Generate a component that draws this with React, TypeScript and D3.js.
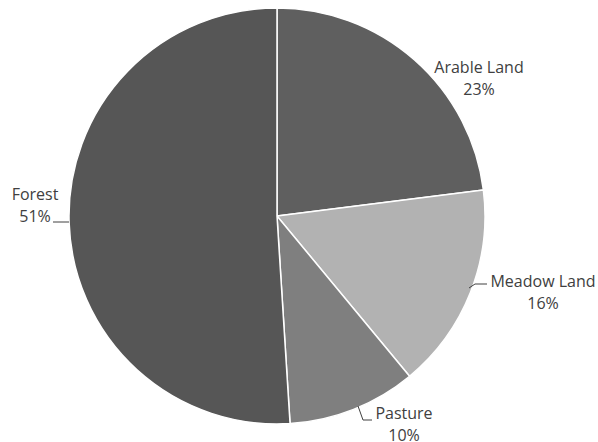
import React from "react";
import * as d3 from "d3";

// Land use shares, clockwise from 12 o'clock
const categories = ["Arable Land", "Meadow Land", "Pasture", "Forest"];
const shares = [23, 16, 10, 51];
const sliceColors = ["#5f5f5f", "#b2b2b2", "#7f7f7f", "#565656"];

const WIDTH = 598;
const HEIGHT = 442;
const CX = 277;
const CY = 216;
const RADIUS = 208;

// Label anchors (centre of the two-line label, first baseline) and leader lines
type LabelLayout = { x: number; y: number; leader?: [number, number][] };
const labelLayout: LabelLayout[] = [
  { x: 479, y: 73 },
  { x: 543, y: 287, leader: [[469, 288], [475, 284], [487, 284]] },
  { x: 404, y: 419, leader: [[358, 406], [363, 420], [372, 420]] },
  { x: 35, y: 200, leader: [[53, 222], [69, 222]] },
];

export default function App() {
  const data = categories.map((c, i) => ({ name: c, value: shares[i], color: sliceColors[i] }));
  const pie = d3
    .pie<{ name: string; value: number; color: string }>()
    .value((d) => d.value)
    .sort(null);
  const arcs = pie(data);
  const arc = d3
    .arc<d3.PieArcDatum<{ name: string; value: number; color: string }>>()
    .innerRadius(0)
    .outerRadius(RADIUS);
  const line = d3.line();

  return (
    <svg
      width={WIDTH}
      height={HEIGHT}
      style={{ position: "absolute", left: 0, top: 0, background: "#ffffff" }}
    >
      <g transform={`translate(${CX},${CY})`}>
        {arcs.map((a, i) => (
          <path
            key={i}
            d={arc(a) || ""}
            fill={a.data.color}
            stroke="#ffffff"
            strokeWidth={1.5}
            strokeLinejoin="round"
          />
        ))}
      </g>
      {arcs.map((a, i) => {
        const l = labelLayout[i];
        return (
          <g key={i}>
            {l.leader && (
              <path d={line(l.leader) || ""} fill="none" stroke="#404040" strokeWidth={1} />
            )}
            <text
              x={l.x}
              y={l.y}
              textAnchor="middle"
              fontFamily="'Open Sans', sans-serif"
              fontSize={16}
              fill="#404040"
            >
              <tspan x={l.x}>{a.data.name}</tspan>
              <tspan x={l.x} dy={22}>{`${a.data.value}%`}</tspan>
            </text>
          </g>
        );
      })}
    </svg>
  );
}
